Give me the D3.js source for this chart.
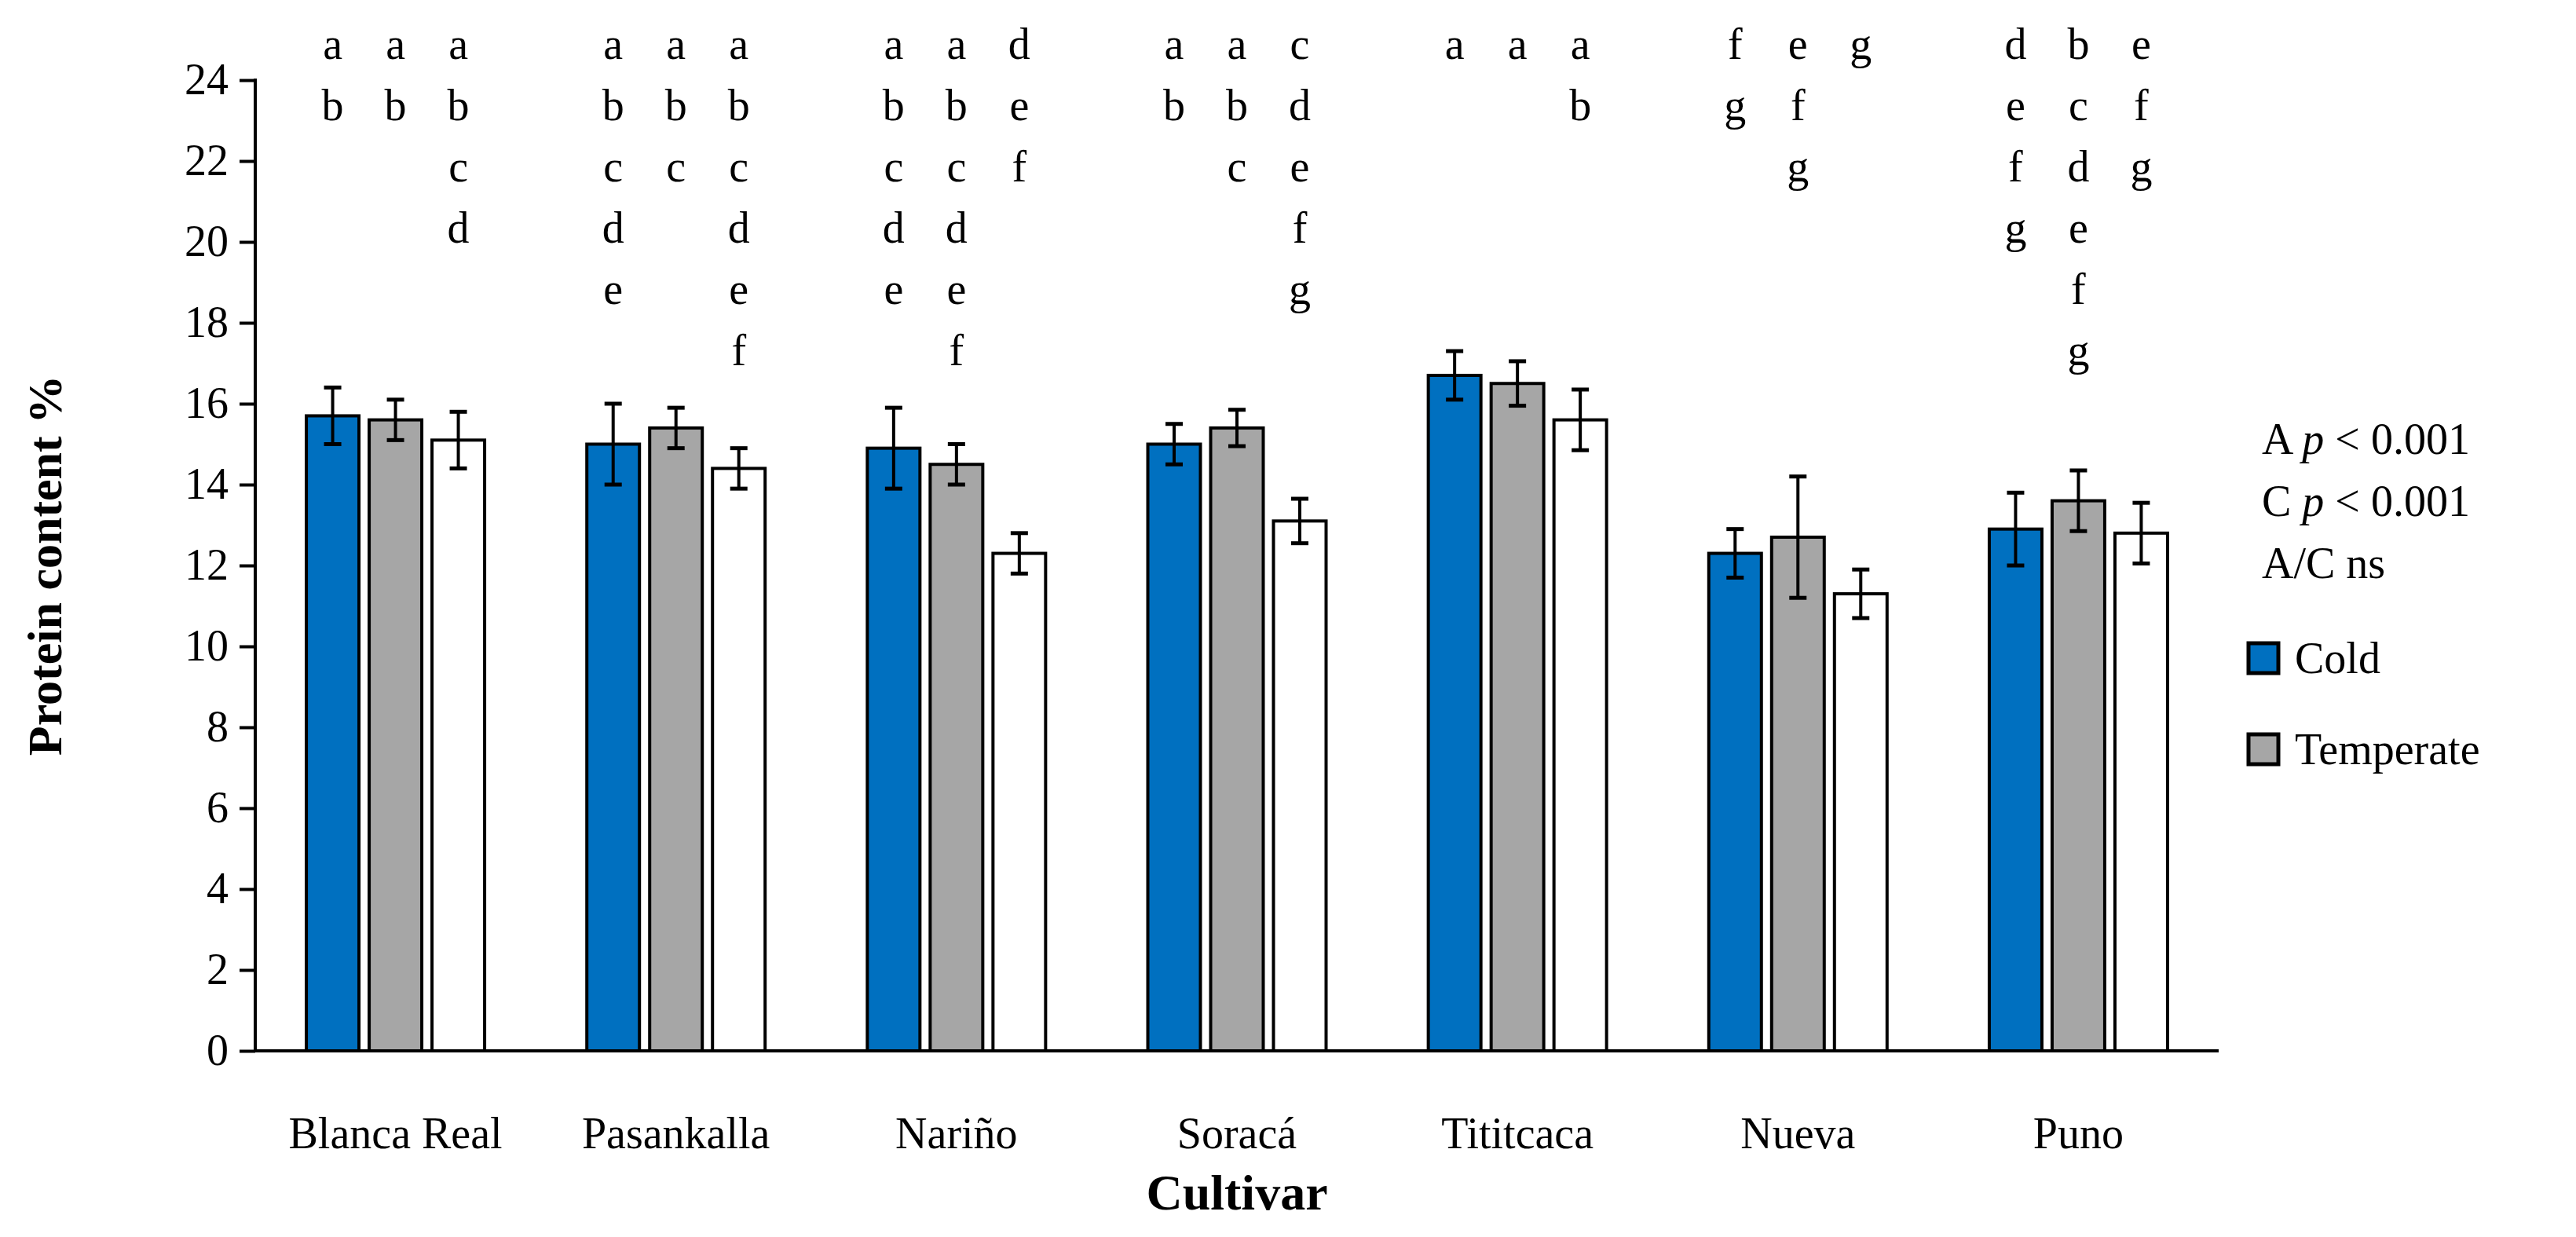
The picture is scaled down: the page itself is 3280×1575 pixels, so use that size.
<!DOCTYPE html>
<html><head><meta charset="utf-8">
<script src="https://cdn.jsdelivr.net/npm/d3@7"></script>
<style>body{margin:0;background:#fff}</style>
</head><body>
<svg id="chart" width="3280" height="1575"></svg>
<script>
// Data
const cultivars = ["Blanca Real", "Pasankalla", "Nariño", "Soracá", "Tititcaca", "Nueva", "Puno"];
const series = ["Cold", "Temperate", "Warm"];
const cold = [15.7, 15.0, 14.9, 15.0, 16.7, 12.3, 12.9];
const temperate = [15.6, 15.4, 14.5, 15.4, 16.5, 12.7, 13.6];
const warm = [15.1, 14.4, 12.3, 13.1, 15.6, 11.3, 12.8];
const coldErr = [0.7, 1.0, 1.0, 0.5, 0.6, 0.6, 0.9];
const temperateErr = [0.5, 0.5, 0.5, 0.45, 0.55, 1.5, 0.75];
const warmErr = [0.7, 0.5, 0.5, 0.55, 0.75, 0.6, 0.75];
const coldLetters = ["ab", "abcde", "abcde", "ab", "a", "fg", "defg"];
const temperateLetters = ["ab", "abc", "abcdef", "abc", "a", "efg", "bcdefg"];
const warmLetters = ["abcd", "abcdef", "def", "cdefg", "ab", "g", "efg"];
const yTicks = [0, 2, 4, 6, 8, 10, 12, 14, 16, 18, 20, 22, 24];
const stats = [["A ", "p", " < 0.001"], ["C ", "p", " < 0.001"], ["A/C ns", "", ""]];

const colors = ["#0070C0", "#A6A6A6", "#FFFFFF"];
const values = [cold, temperate, warm];
const errs = [coldErr, temperateErr, warmErr];
const letters = [coldLetters, temperateLetters, warmLetters];
const font = "'Liberation Serif', 'DejaVu Serif', serif";

const svg = d3.select("#chart");
const mLeft = 325, mRight = 2825, mTop = 102, mBottom = 1338;

const x = d3.scaleBand().domain(cultivars).range([mLeft, mRight]).paddingInner(0).paddingOuter(0);
const y = d3.scaleLinear().domain([0, 24]).range([mBottom, mTop]);
const barW = 67, barStep = 80;

// axes
const yAxis = svg.append("g").attr("transform", `translate(${mLeft},0)`)
  .call(d3.axisLeft(y).tickValues(yTicks).tickSize(20).tickPadding(14));
yAxis.select(".domain").remove();
yAxis.selectAll("line").attr("stroke", "#000").attr("stroke-width", 4);
yAxis.selectAll("text").attr("font-family", font).attr("font-size", 56).attr("fill", "#000");
svg.append("line").attr("x1", mLeft).attr("x2", mLeft).attr("y1", mTop - 2).attr("y2", mBottom)
  .attr("stroke", "#000").attr("stroke-width", 4);
svg.append("line").attr("x1", mLeft).attr("x2", mRight).attr("y1", mBottom).attr("y2", mBottom)
  .attr("stroke", "#000").attr("stroke-width", 4);

// category labels
svg.append("g").selectAll("text").data(cultivars).join("text")
  .attr("x", d => x(d) + x.bandwidth() / 2).attr("y", 1462)
  .attr("text-anchor", "middle").attr("font-family", font).attr("font-size", 56).text(d => d);

// bars
series.forEach((s, si) => {
  const g = svg.append("g");
  const bx = i => x(cultivars[i]) + x.bandwidth() / 2 + (si - 1) * barStep;
  g.selectAll("rect").data(values[si]).join("rect")
    .attr("x", (d, i) => bx(i) - barW / 2).attr("width", barW)
    .attr("y", d => y(d)).attr("height", d => mBottom - y(d))
    .attr("fill", colors[si]).attr("stroke", "#000").attr("stroke-width", 4);
  // error bars
  values[si].forEach((v, i) => {
    const e = errs[si][i], cx = bx(i);
    g.append("line").attr("x1", cx).attr("x2", cx).attr("y1", y(v - e)).attr("y2", y(v + e))
      .attr("stroke", "#000").attr("stroke-width", 4);
    [v - e, v + e].forEach(t => g.append("line").attr("x1", cx - 11).attr("x2", cx + 11)
      .attr("y1", y(t)).attr("y2", y(t)).attr("stroke", "#000").attr("stroke-width", 5));
    // significance letters, one per line
    letters[si][i].split("").forEach((ch, k) => g.append("text")
      .attr("x", cx).attr("y", 75 + k * 78).attr("text-anchor", "middle")
      .attr("font-family", font).attr("font-size", 56).text(ch));
  });
});

// stats text
stats.forEach((s, i) => {
  const t = svg.append("text").attr("x", 2880).attr("y", 578 + i * 79)
    .attr("font-family", font).attr("font-size", 56);
  t.append("tspan").text(s[0]);
  if (s[1]) t.append("tspan").attr("font-style", "italic").text(s[1]);
  t.append("tspan").text(s[2]);
});

// legend
["Cold", "Temperate"].forEach((s, i) => {
  const ly = 857 + i * 116;
  svg.append("rect").attr("x", 2863).attr("y", ly - 38).attr("width", 38).attr("height", 38)
    .attr("fill", colors[i]).attr("stroke", "#000").attr("stroke-width", 5);
  svg.append("text").attr("x", 2922).attr("y", ly).attr("font-family", font)
    .attr("font-size", 56).text(s);
});

// axis titles
svg.append("text").attr("transform", `translate(78,${(mTop + mBottom) / 2}) rotate(-90)`)
  .attr("text-anchor", "middle").attr("font-family", font).attr("font-weight", "bold")
  .attr("font-size", 62).text("Protein content %");
svg.append("text").attr("x", (mLeft + mRight) / 2).attr("y", 1540).attr("text-anchor", "middle")
  .attr("font-family", font).attr("font-weight", "bold").attr("font-size", 64).text("Cultivar");
</script>
</body></html>
